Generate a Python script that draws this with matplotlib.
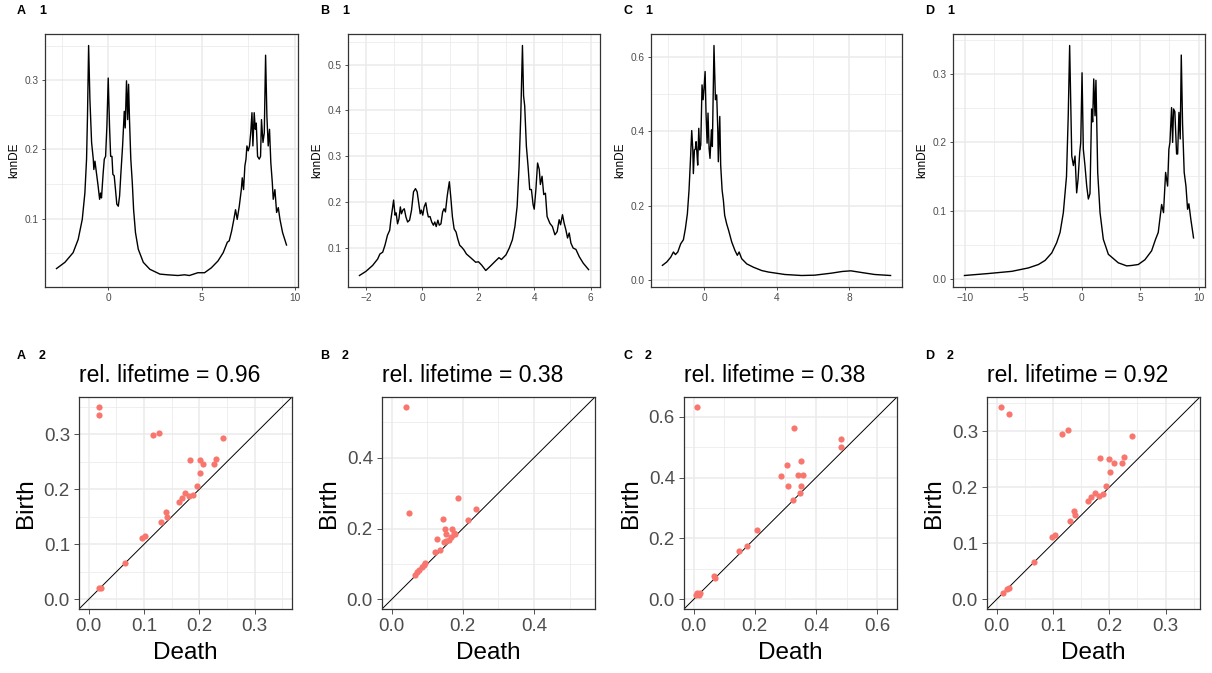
import matplotlib
matplotlib.use("Agg")
import matplotlib.pyplot as plt
from matplotlib.ticker import FixedLocator, FuncFormatter

plt.rcParams['font.family'] = ['Liberation Sans', 'DejaVu Sans']

# knnDE curves (top row)
a1_x = [-2.77, -2.32, -1.88, -1.61, -1.39, -1.25, -1.16, -1.11, -1.05, -0.98, -0.89, -0.80, -0.77, -0.71,
        -0.63, -0.54, -0.46, -0.41, -0.36, -0.27, -0.21, -0.14, -0.07, 0.0, 0.07, 0.13, 0.20, 0.25, 0.32,
        0.39, 0.46, 0.54, 0.61, 0.68, 0.77, 0.86, 0.91, 0.98, 1.04, 1.09, 1.14, 1.21, 1.29, 1.36, 1.46,
        1.61, 1.88, 2.23, 2.77, 3.19, 3.73, 4.09, 4.35, 4.80, 5.16, 5.52, 5.88, 6.16, 6.38, 6.48, 6.61,
        6.73, 6.82, 6.91, 7.02, 7.13, 7.18, 7.25, 7.32, 7.38, 7.43, 7.50, 7.57, 7.64, 7.70, 7.75, 7.82,
        7.88, 7.93, 8.00, 8.09, 8.16, 8.21, 8.29, 8.36, 8.43, 8.50, 8.57, 8.64, 8.71, 8.79, 8.84, 8.93,
        9.02, 9.11, 9.20, 9.34, 9.55]
a1_y = [0.028, 0.037, 0.051, 0.070, 0.099, 0.137, 0.186, 0.248, 0.350, 0.272, 0.210, 0.186, 0.171, 0.183,
        0.166, 0.147, 0.128, 0.137, 0.130, 0.166, 0.186, 0.190, 0.234, 0.303, 0.234, 0.190, 0.190, 0.164,
        0.162, 0.142, 0.121, 0.118, 0.133, 0.166, 0.205, 0.255, 0.231, 0.299, 0.243, 0.294, 0.243, 0.186,
        0.152, 0.113, 0.080, 0.056, 0.037, 0.027, 0.020, 0.019, 0.018, 0.019, 0.018, 0.022, 0.022, 0.029,
        0.039, 0.051, 0.066, 0.068, 0.082, 0.099, 0.113, 0.099, 0.118, 0.142, 0.159, 0.142, 0.176, 0.186,
        0.205, 0.198, 0.205, 0.226, 0.253, 0.205, 0.253, 0.229, 0.238, 0.190, 0.186, 0.190, 0.243, 0.210,
        0.224, 0.336, 0.248, 0.205, 0.229, 0.181, 0.152, 0.128, 0.142, 0.109, 0.116, 0.099, 0.080, 0.062]

b1_x = [-2.25, -2.02, -1.78, -1.60, -1.52, -1.42, -1.34, -1.25, -1.17, -1.13, -1.08, -1.03, -0.98, -0.94,
        -0.89, -0.84, -0.79, -0.75, -0.70, -0.65, -0.59, -0.53, -0.46, -0.39, -0.32, -0.25, -0.19, -0.14,
        -0.08, -0.04, 0.01, 0.06, 0.12, 0.17, 0.21, 0.27, 0.33, 0.39, 0.44, 0.49, 0.55, 0.60, 0.66, 0.72,
        0.77, 0.82, 0.88, 0.91, 0.96, 1.01, 1.07, 1.13, 1.20, 1.26, 1.33, 1.40, 1.48, 1.57, 1.72, 1.90,
        2.00, 2.11, 2.26, 2.40, 2.58, 2.73, 2.82, 2.98, 3.10, 3.21, 3.30, 3.38, 3.45, 3.51, 3.57, 3.61,
        3.65, 3.71, 3.77, 3.83, 3.89, 3.95, 3.99, 4.05, 4.11, 4.17, 4.21, 4.27, 4.33, 4.39, 4.45, 4.55,
        4.64, 4.73, 4.81, 4.88, 4.93, 5.00, 5.06, 5.12, 5.18, 5.24, 5.30, 5.38, 5.48, 5.60, 5.74, 5.93]
b1_y = [0.039, 0.048, 0.061, 0.075, 0.086, 0.090, 0.105, 0.127, 0.138, 0.160, 0.182, 0.204, 0.171, 0.176,
        0.152, 0.163, 0.189, 0.174, 0.182, 0.185, 0.167, 0.156, 0.160, 0.182, 0.222, 0.229, 0.222, 0.200,
        0.174, 0.182, 0.171, 0.189, 0.198, 0.178, 0.167, 0.168, 0.156, 0.149, 0.156, 0.146, 0.160, 0.149,
        0.152, 0.178, 0.185, 0.178, 0.211, 0.224, 0.244, 0.211, 0.167, 0.141, 0.134, 0.119, 0.105, 0.101,
        0.095, 0.086, 0.078, 0.068, 0.069, 0.062, 0.050, 0.058, 0.069, 0.078, 0.074, 0.084, 0.099, 0.117,
        0.146, 0.190, 0.278, 0.388, 0.542, 0.432, 0.410, 0.322, 0.278, 0.227, 0.227, 0.194, 0.184, 0.227,
        0.285, 0.271, 0.238, 0.256, 0.216, 0.219, 0.168, 0.153, 0.146, 0.128, 0.135, 0.161, 0.150, 0.172,
        0.153, 0.139, 0.121, 0.132, 0.110, 0.099, 0.096, 0.080, 0.066, 0.052]

c1_x = [-2.32, -2.08, -1.86, -1.71, -1.60, -1.47, -1.31, -1.16, -1.05, -0.94, -0.85, -0.77, -0.70, -0.64,
        -0.61, -0.55, -0.50, -0.46, -0.41, -0.37, -0.31, -0.26, -0.20, -0.13, -0.07, -0.02, 0.04, 0.09,
        0.15, 0.20, 0.26, 0.31, 0.39, 0.44, 0.53, 0.61, 0.68, 0.74, 0.77, 0.85, 0.90, 0.98, 1.05, 1.12,
        1.23, 1.34, 1.51, 1.69, 1.82, 1.92, 2.06, 2.34, 2.71, 3.17, 3.54, 4.45, 5.37, 6.10, 7.02, 7.61,
        8.09, 8.68, 9.41, 10.29]
c1_y = [0.039, 0.048, 0.061, 0.075, 0.068, 0.075, 0.097, 0.108, 0.138, 0.178, 0.241, 0.323, 0.402, 0.350,
        0.286, 0.350, 0.352, 0.372, 0.340, 0.309, 0.408, 0.350, 0.363, 0.525, 0.485, 0.516, 0.561, 0.449,
        0.368, 0.449, 0.354, 0.327, 0.404, 0.359, 0.631, 0.485, 0.498, 0.404, 0.318, 0.440, 0.309, 0.241,
        0.214, 0.174, 0.151, 0.133, 0.102, 0.079, 0.066, 0.075, 0.057, 0.043, 0.034, 0.025, 0.021, 0.0144,
        0.0117, 0.0126, 0.018, 0.0225, 0.0243, 0.0198, 0.0144, 0.0117]

d1_x = [-10.03, -7.98, -5.98, -4.56, -3.70, -3.13, -2.56, -2.14, -1.85, -1.57, -1.30, -1.15, -1.03, -0.95,
        -0.85, -0.71, -0.57, -0.43, -0.31, -0.17, -0.08, 0.03, 0.14, 0.28, 0.43, 0.57, 0.71, 0.85, 0.94,
        1.03, 1.14, 1.22, 1.37, 1.57, 1.85, 2.28, 3.13, 3.85, 4.27, 4.84, 5.41, 5.98, 6.32, 6.55, 6.84,
        7.00, 7.18, 7.35, 7.46, 7.55, 7.69, 7.78, 7.86, 7.97, 8.12, 8.21, 8.32, 8.43, 8.52, 8.63, 8.77,
        8.92, 9.06, 9.17, 9.34, 9.57]
d1_y = [0.0049, 0.0078, 0.011, 0.016, 0.021, 0.027, 0.038, 0.053, 0.068, 0.097, 0.150, 0.240, 0.342, 0.270,
        0.180, 0.166, 0.180, 0.126, 0.146, 0.185, 0.200, 0.302, 0.190, 0.166, 0.136, 0.117, 0.125, 0.249,
        0.230, 0.293, 0.239, 0.291, 0.156, 0.097, 0.058, 0.036, 0.0235, 0.019, 0.0196, 0.021, 0.028, 0.041,
        0.058, 0.068, 0.109, 0.097, 0.156, 0.136, 0.190, 0.200, 0.251, 0.200, 0.249, 0.245, 0.183, 0.183,
        0.244, 0.205, 0.328, 0.227, 0.156, 0.136, 0.102, 0.110, 0.087, 0.060]

# persistence diagrams (bottom row)
a2_death = [0.019, 0.019, 0.117, 0.127, 0.243, 0.183, 0.202, 0.207, 0.226, 0.231, 0.202, 0.195, 0.174,
            0.168, 0.163, 0.181, 0.188, 0.139, 0.141, 0.130, 0.096, 0.102, 0.066, 0.019, 0.022]
a2_birth = [0.350, 0.335, 0.298, 0.303, 0.293, 0.253, 0.253, 0.245, 0.245, 0.255, 0.229, 0.205, 0.193,
            0.184, 0.176, 0.187, 0.189, 0.159, 0.150, 0.141, 0.112, 0.115, 0.066, 0.020, 0.021]
b2_death = [0.039, 0.050, 0.185, 0.237, 0.214, 0.143, 0.149, 0.153, 0.169, 0.175, 0.179, 0.167, 0.160,
            0.153, 0.146, 0.127, 0.121, 0.137, 0.095, 0.090, 0.084, 0.077, 0.071, 0.065]
b2_birth = [0.544, 0.243, 0.287, 0.255, 0.223, 0.227, 0.200, 0.185, 0.198, 0.187, 0.185, 0.177, 0.168,
            0.166, 0.161, 0.170, 0.133, 0.138, 0.102, 0.098, 0.091, 0.082, 0.076, 0.069]
c2_death = [0.012, 0.328, 0.480, 0.480, 0.352, 0.305, 0.287, 0.341, 0.356, 0.308, 0.350, 0.348, 0.326,
            0.207, 0.175, 0.149, 0.065, 0.071, 0.012, 0.022, 0.016, 0.008]
c2_birth = [0.633, 0.562, 0.526, 0.499, 0.454, 0.442, 0.404, 0.408, 0.407, 0.373, 0.371, 0.349, 0.325,
            0.229, 0.175, 0.160, 0.076, 0.071, 0.022, 0.022, 0.013, 0.014]
d2_death = [0.008, 0.021, 0.116, 0.127, 0.240, 0.183, 0.200, 0.208, 0.223, 0.227, 0.201, 0.195, 0.174,
            0.168, 0.163, 0.181, 0.189, 0.138, 0.139, 0.130, 0.098, 0.104, 0.067, 0.022, 0.019, 0.012]
d2_birth = [0.344, 0.330, 0.295, 0.302, 0.292, 0.252, 0.250, 0.244, 0.244, 0.254, 0.228, 0.202, 0.190,
            0.182, 0.175, 0.185, 0.188, 0.157, 0.150, 0.140, 0.111, 0.114, 0.066, 0.021, 0.019, 0.011]

letters = ["A", "B", "C", "D"]
lifetimes = ["0.96", "0.38", "0.38", "0.92"]

W, H = 1212, 673
GRID = "#EBEBEB"
BORDER = "#333333"
TICKCOL = "#4D4D4D"


def add_ax(fig, l, t, r, b):
    """Оси по пиксельным координатам (слева, сверху, справа, снизу)."""
    return fig.add_axes([l / W, 1 - b / H, (r - l) / W, (b - t) / H])


def style_ax(ax, xmaj, xmin, ymaj, ymin, xfmt, yfmt, fs, tlen):
    ax.xaxis.set_major_locator(FixedLocator(xmaj))
    ax.xaxis.set_minor_locator(FixedLocator(xmin))
    ax.yaxis.set_major_locator(FixedLocator(ymaj))
    ax.yaxis.set_minor_locator(FixedLocator(ymin))
    ax.xaxis.set_major_formatter(FuncFormatter(lambda v, p: xfmt.format(v).replace("-", "\u2212")))
    ax.yaxis.set_major_formatter(FuncFormatter(lambda v, p: yfmt.format(v).replace("-", "\u2212")))
    ax.grid(True, which="major", color=GRID, lw=1.1)
    ax.grid(True, which="minor", color=GRID, lw=0.55)
    ax.set_axisbelow(True)
    for s in ax.spines.values():
        s.set_color(BORDER)
        s.set_linewidth(0.9)
    ax.tick_params(which="major", length=tlen, width=0.6, color=BORDER,
                   labelsize=fs, labelcolor=TICKCOL, pad=2)
    ax.tick_params(which="minor", length=0)


def expand(lo, hi):
    pad = 0.05 * (hi - lo)
    return lo - pad, hi + pad


fig = plt.figure(figsize=(W / 100, H / 100), dpi=100)

# верхний ряд: knnDE
top_boxes = [(45, 298), (348, 600), (651, 902), (953, 1205)]
curves = [(a1_x, a1_y), (b1_x, b1_y), (c1_x, c1_y), (d1_x, d1_y)]
top_ticks = [
    ([0, 5, 10], [-2.5, 2.5, 7.5], [0.1, 0.2, 0.3], [0.05, 0.15, 0.25, 0.35]),
    ([-2, 0, 2, 4, 6], [-1, 1, 3, 5], [0.1, 0.2, 0.3, 0.4, 0.5], [0.05, 0.15, 0.25, 0.35, 0.45, 0.55]),
    ([0, 4, 8], [-2, 2, 6, 10], [0.0, 0.2, 0.4, 0.6], [0.1, 0.3, 0.5]),
    ([-10, -5, 0, 5, 10], [-7.5, -2.5, 2.5, 7.5], [0.0, 0.1, 0.2, 0.3], [0.05, 0.15, 0.25, 0.35]),
]
for i, ((l, r), (xs, ys), tk) in enumerate(zip(top_boxes, curves, top_ticks)):
    ax = add_ax(fig, l, 34, r, 287)
    ax.plot(xs, ys, color="black", lw=1.0)
    ax.set_xlim(*expand(min(xs), max(xs)))
    ax.set_ylim(*expand(min(ys), max(ys)))
    style_ax(ax, tk[0], tk[1], tk[2], tk[3], "{:g}", "{:.1f}", 7.3, 2.5)
    ax.set_ylabel("knnDE", fontsize=8.5, labelpad=3)
    fig.text((l - 28) / W, 1 - 11 / H, letters[i], fontsize=9, fontweight="bold", va="center")
    fig.text((l - 6) / W, 1 - 11 / H, "1", fontsize=9, fontweight="bold", va="center")

# нижний ряд: диаграммы персистентности
bot_boxes = [(79, 292), (382, 595), (684, 897), (987, 1200)]
diagrams = [(a2_death, a2_birth), (b2_death, b2_birth), (c2_death, c2_birth), (d2_death, d2_birth)]
bot_ticks = [
    ([0.0, 0.1, 0.2, 0.3], [0.05, 0.15, 0.25, 0.35]),
    ([0.0, 0.2, 0.4], [0.1, 0.3, 0.5]),
    ([0.0, 0.2, 0.4, 0.6], [0.1, 0.3, 0.5]),
    ([0.0, 0.1, 0.2, 0.3], [0.05, 0.15, 0.25, 0.35]),
]
for i, ((l, r), (dth, brt), tk) in enumerate(zip(bot_boxes, diagrams, bot_ticks)):
    ax = add_ax(fig, l, 397, r, 609)
    ax.scatter(dth, brt, s=20, color="#F8766D", linewidths=0, zorder=3)
    ax.axline((0, 0), slope=1, color="black", lw=0.7, zorder=2)
    lim = expand(0, max(max(dth), max(brt)))
    ax.set_xlim(*lim)
    ax.set_ylim(*lim)
    style_ax(ax, tk[0], tk[1], tk[0], tk[1], "{:.1f}", "{:.1f}", 13.5, 3.5)
    ax.tick_params(which="major", pad=3)
    ax.set_xlabel("Death", fontsize=17.5, labelpad=5)
    ax.set_ylabel("Birth", fontsize=17.5, labelpad=5)
    ax.set_title("rel. lifetime = " + lifetimes[i], loc="left", fontsize=16.5, pad=11)
    x0 = top_boxes[i][0]
    fig.text((x0 - 28) / W, 1 - 356 / H, letters[i], fontsize=9, fontweight="bold", va="center")
    fig.text((x0 - 6) / W, 1 - 356 / H, "2", fontsize=9, fontweight="bold", va="center")

fig.savefig("out.png", dpi=100)
